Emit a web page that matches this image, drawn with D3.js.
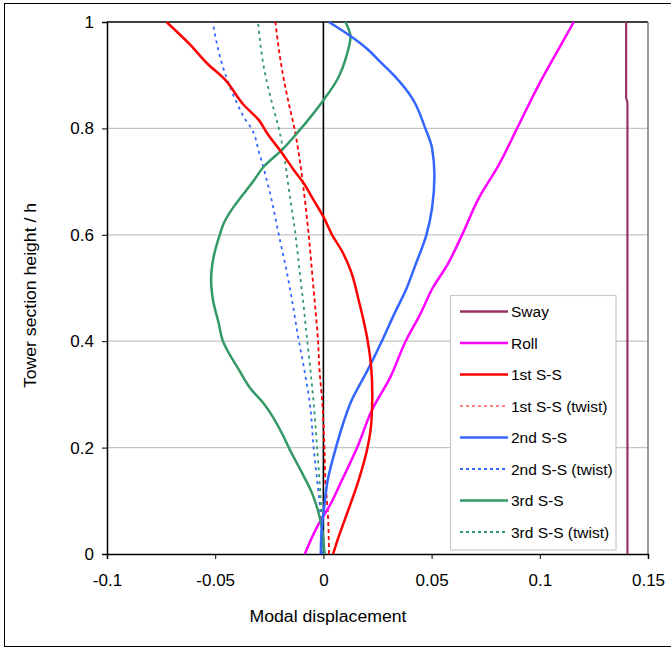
<!DOCTYPE html>
<html>
<head>
<meta charset="utf-8">
<script src="https://cdn.jsdelivr.net/npm/d3@7/dist/d3.min.js"></script>
<style>
  html, body { margin: 0; padding: 0; background: #fff; }
  svg text { font-family: "Liberation Sans", Arial, sans-serif; fill: #000; }
</style>
</head>
<body>
<svg id="chart" width="671" height="648"></svg>
<script>
// ---- data: [height fraction h, modal displacement] ----
const sway = [[0,0.1405],[0.848,0.1405],[0.858,0.1399],[1,0.1399]];
const roll = [[0,-0.0086],[0.051,-0.0029],[0.093,0.0032],[0.139,0.0086],[0.2,0.0156],[0.271,0.0225],[0.333,0.031],[0.4,0.038],[0.449,0.0445],[0.5,0.0505],[0.543,0.0572],[0.6,0.0641],[0.669,0.0718],[0.731,0.081],[0.8,0.0895],[0.888,0.1003],[0.95,0.1088],[1,0.1157]];
const ss1 = [[0,0.0045],[0.033,0.0071],[0.077,0.011],[0.139,0.0163],[0.2,0.0204],[0.25,0.0222],[0.3,0.0226],[0.35,0.0221],[0.4,0.0205],[0.44,0.0185],[0.477,0.0163],[0.534,0.0125],[0.57,0.0085],[0.6,0.004],[0.634,0],[0.665,-0.0045],[0.697,-0.0091],[0.722,-0.0137],[0.753,-0.019],[0.791,-0.026],[0.816,-0.0299],[0.844,-0.0368],[0.894,-0.046],[0.922,-0.0537],[0.957,-0.0615],[1,-0.0725]];
const ss1Twist = [[0,0.0026],[0.08,0.002],[0.139,0.0009],[0.2,0.0005],[0.284,-0.0005],[0.346,-0.0018],[0.402,-0.0025],[0.465,-0.0038],[0.528,-0.0052],[0.6,-0.0068],[0.684,-0.0091],[0.753,-0.0114],[0.8,-0.0134],[0.847,-0.016],[0.91,-0.0191],[1,-0.0222]];
const ss2 = [[0,-0.0012],[0.033,-0.001],[0.093,0.0005],[0.139,0.002],[0.2,0.0058],[0.25,0.0095],[0.284,0.0125],[0.346,0.0205],[0.4,0.027],[0.449,0.0325],[0.499,0.0384],[0.543,0.0425],[0.6,0.0476],[0.65,0.0502],[0.712,0.0513],[0.763,0.0502],[0.8,0.0471],[0.857,0.041],[0.9,0.0325],[0.925,0.0263],[0.947,0.0209],[0.975,0.012],[1,0.0025]];
const ss2Twist = [[0,-0.0006],[0.093,-0.0017],[0.139,-0.0029],[0.2,-0.0045],[0.284,-0.0063],[0.346,-0.0088],[0.402,-0.0114],[0.477,-0.0145],[0.528,-0.0168],[0.6,-0.0206],[0.684,-0.025],[0.753,-0.0296],[0.8,-0.0333],[0.816,-0.036],[0.847,-0.0399],[0.91,-0.046],[1,-0.0512]];
const ss3 = [[0,0.0005],[0.045,-0.0006],[0.077,-0.0022],[0.114,-0.0052],[0.158,-0.0106],[0.2,-0.016],[0.22,-0.0183],[0.283,-0.0276],[0.311,-0.0337],[0.346,-0.039],[0.402,-0.0466],[0.434,-0.0484],[0.477,-0.051],[0.515,-0.0519],[0.559,-0.0507],[0.6,-0.0479],[0.622,-0.046],[0.653,-0.0414],[0.669,-0.0384],[0.7,-0.0325],[0.728,-0.0276],[0.761,-0.0188],[0.791,-0.0122],[0.853,0],[0.891,0.0063],[0.941,0.011],[0.972,0.0125],[1,0.0102]];
const ss3Twist = [[0,0.0005],[0.08,-0.0009],[0.139,-0.0018],[0.2,-0.0029],[0.284,-0.0045],[0.346,-0.006],[0.402,-0.0075],[0.465,-0.0091],[0.528,-0.0109],[0.6,-0.0129],[0.684,-0.0159],[0.753,-0.0183],[0.8,-0.0206],[0.847,-0.0237],[0.91,-0.0273],[1,-0.0302]];
const zeroLine = [[0,0],[1,0]];

const seriesNames = ["Sway","Roll","1st S-S","1st S-S (twist)","2nd S-S","2nd S-S (twist)","3rd S-S","3rd S-S (twist)"];
const xTicks = [-0.1,-0.05,0,0.05,0.1,0.15];
const xTickLabels = ["-0.1","-0.05","0","0.05","0.1","0.15"];
const yTicks = [0,0.2,0.4,0.6,0.8,1];
const yTickLabels = ["0","0.2","0.4","0.6","0.8","1"];
const xTitle = "Modal displacement";
const yTitle = "Tower section height / h";

// ---- styles ----
const styles = [
  {data: sway,     color:"#993366", width:2.2, dash:null},
  {data: roll,     color:"#ff00ff", width:2.5, dash:null},
  {data: ss1,      color:"#ff0000", width:2.5, dash:null},
  {data: ss1Twist, color:"#ff0000", width:1.8, dash:"4,3"},
  {data: ss2,      color:"#3366ff", width:2.5, dash:null},
  {data: ss2Twist, color:"#3366ff", width:1.8, dash:"3,4"},
  {data: ss3,      color:"#339966", width:2.5, dash:null},
  {data: ss3Twist, color:"#339966", width:1.8, dash:"3,4"}
];

const svg = d3.select("#chart");
const L = 107, R = 648, T = 22, B = 554;
const x = d3.scaleLinear().domain([-0.1, 0.15]).range([L, R]);
const y = d3.scaleLinear().domain([0, 1]).range([B, T]);

// outer frame
svg.append("rect").attr("x",4.5).attr("y",3.5).attr("width",700).attr("height",643)
  .attr("fill","#fff").attr("stroke","#000").attr("stroke-width",1);

// gridlines
svg.append("g").selectAll("line").data(yTicks.filter(d => d > 0 && d < 1)).join("line")
  .attr("x1", L).attr("x2", R).attr("y1", d => y(d)).attr("y2", d => y(d))
  .attr("stroke", "#c4c4c4").attr("stroke-width", 1.2);

// plot frame top and right
svg.append("line").attr("x1",L).attr("x2",R).attr("y1",T).attr("y2",T).attr("stroke","#000").attr("stroke-width",1.5);
svg.append("line").attr("x1",R).attr("x2",R).attr("y1",T).attr("y2",B).attr("stroke","#7a7a7a").attr("stroke-width",1.5);

// axes
const xAxis = d3.axisBottom(x).tickValues(xTicks).tickSize(5).tickPadding(15)
  .tickFormat((d, i) => xTickLabels[i]);
const gx = svg.append("g").attr("transform", `translate(0,${B})`).call(xAxis);
const yAxis = d3.axisLeft(y).tickValues(yTicks).tickSize(5).tickPadding(8)
  .tickFormat((d, i) => yTickLabels[i]);
const gy = svg.append("g").attr("transform", `translate(${L},0)`).call(yAxis);
[gx, gy].forEach(g => {
  g.select(".domain").attr("stroke","#000").attr("stroke-width",1.5);
  g.selectAll(".tick line").attr("stroke","#000").attr("stroke-width",1);
  g.selectAll(".tick text").attr("font-size","17px").attr("font-family","Liberation Sans, Arial, sans-serif").attr("fill","#000");
});

// zero line
const line = d3.line().x(d => x(d[1])).y(d => y(d[0])).curve(d3.curveMonotoneY);
svg.append("path").attr("d", d3.line().x(d => x(d[1])).y(d => y(d[0]))(zeroLine))
  .attr("stroke","#000").attr("stroke-width",1.6).attr("fill","none");

// series (draw order so solid lines sit on top of dashed ones)
const order = [3,5,7,0,1,6,4,2];
order.forEach(i => {
  const s = styles[i];
  svg.append("path").attr("d", line(s.data))
    .attr("fill","none").attr("stroke", s.color).attr("stroke-width", s.width)
    .attr("stroke-dasharray", s.dash).attr("stroke-linejoin","round");
});

// axis titles
svg.append("text").attr("x", 328).attr("y", 622).attr("text-anchor","middle")
  .attr("font-size","16px").attr("textLength",157).attr("lengthAdjust","spacingAndGlyphs").text(xTitle);
svg.append("text").attr("transform","translate(36,295.5) rotate(-90)").attr("text-anchor","middle")
  .attr("font-size","16px").attr("textLength",185).attr("lengthAdjust","spacingAndGlyphs").text(yTitle);

// legend
const lg = svg.append("g");
lg.append("rect").attr("x",450.5).attr("y",295.5).attr("width",165.5).attr("height",254.5)
  .attr("fill","#fff").attr("stroke","#c8c8c8").attr("stroke-width",1.2);
seriesNames.forEach((name, i) => {
  const s = styles[i];
  const cy = 311.5 + i * 31.5;
  lg.append("line").attr("x1",460).attr("x2",508).attr("y1",cy).attr("y2",cy)
    .attr("stroke", s.color).attr("stroke-width", s.dash ? (i === 3 ? 1 : 2.2) : 2.5)
    .attr("stroke-dasharray", s.dash ? "3,3" : null);
  lg.append("text").attr("x",511).attr("y",cy).attr("dy","0.36em")
    .attr("font-size","15.5px").text(name);
});
</script>
</body>
</html>
